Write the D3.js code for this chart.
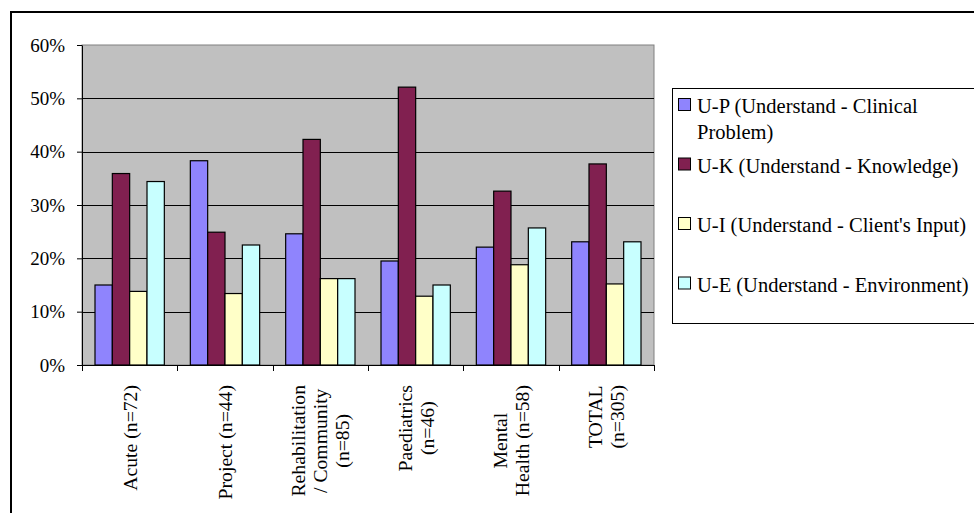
<!DOCTYPE html>
<html>
<head>
<meta charset="utf-8">
<script src="https://cdn.jsdelivr.net/npm/d3@7"></script>
<style>
  html, body { margin: 0; padding: 0; background: #fff; }
  svg { display: block; }
  text { font-family: "Times New Roman", "Liberation Serif", serif; fill: #000; }
</style>
</head>
<body>
<svg width="974" height="513"></svg>
<script>
const categories = [
  ["Acute (n=72)"],
  ["Project (n=44)"],
  ["Rehabilitation", "/ Community", "(n=85)"],
  ["Paediatrics", "(n=46)"],
  ["Mental", "Health (n=58)"],
  ["TOTAL", "(n=305)"]
];
const seriesNames = [
  "U-P (Understand - Clinical Problem)",
  "U-K (Understand - Knowledge)",
  "U-I (Understand - Client's Input)",
  "U-E (Understand - Environment)"
];
const upValues = [15.0, 38.3, 24.6, 19.5, 22.1, 23.1];
const ukValues = [35.9, 24.9, 42.3, 52.1, 32.6, 37.7];
const uiValues = [13.8, 13.4, 16.2, 12.9, 18.8, 15.2];
const ueValues = [34.4, 22.5, 16.2, 15.0, 25.7, 23.1];
const yTicks = [0, 10, 20, 30, 40, 50, 60];
const colors = ["#8f84fd", "#812050", "#ffffc8", "#c8ffff"];

const series = [upValues, ukValues, uiValues, ueValues];

const svg = d3.select("svg");

// outer chart border (runs off the right/bottom of the window)
svg.append("rect")
  .attr("x", 11).attr("y", 12)
  .attr("width", 990).attr("height", 540)
  .attr("fill", "none").attr("stroke", "#000").attr("stroke-width", 2);

const plot = { left: 82, top: 45, right: 654, bottom: 365 };

const x = d3.scaleBand()
  .domain(d3.range(categories.length))
  .range([plot.left, plot.right])
  .paddingInner(1.5 / 5.5)
  .paddingOuter(0.75 / 5.5);

const x1 = d3.scaleBand()
  .domain(d3.range(series.length))
  .range([0, x.bandwidth()]);

const y = d3.scaleLinear().domain([0, 60]).range([plot.bottom, plot.top]);

// plot background
svg.append("rect")
  .attr("x", plot.left).attr("y", plot.top)
  .attr("width", plot.right - plot.left).attr("height", plot.bottom - plot.top)
  .attr("fill", "#c0c0c0").attr("stroke", "#808080");

// gridlines
svg.append("g")
  .selectAll("line")
  .data(yTicks.filter(d => d > 0 && d < 60))
  .join("line")
  .attr("x1", plot.left).attr("x2", plot.right)
  .attr("y1", d => Math.round(y(d)) + 0.5).attr("y2", d => Math.round(y(d)) + 0.5)
  .attr("stroke", "#000");

// bars
const group = svg.append("g")
  .selectAll("g")
  .data(categories.map((c, i) => i))
  .join("g")
  .attr("transform", i => `translate(${x(i)},0)`);

group.selectAll("rect")
  .data(i => series.map((s, k) => ({ k, v: s[i] })))
  .join("rect")
  .attr("x", d => x1(d.k))
  .attr("y", d => y(d.v))
  .attr("width", x1.bandwidth())
  .attr("height", d => y(0) - y(d.v))
  .attr("fill", d => colors[d.k])
  .attr("stroke", "#000")
  .attr("stroke-width", 1.2);

// y axis
const yAxis = svg.append("g")
  .attr("transform", `translate(${plot.left},0)`)
  .call(d3.axisLeft(y).tickValues(yTicks).tickFormat(d => d + "%").tickSize(5).tickSizeOuter(0).tickPadding(12));
yAxis.select(".domain").attr("stroke", "#000");
yAxis.selectAll(".tick line").attr("stroke", "#000");
yAxis.selectAll("text").attr("font-size", 19).style("font-family", '"Times New Roman", "Liberation Serif", serif');

// x axis line and category boundary ticks
svg.append("line")
  .attr("x1", plot.left).attr("x2", plot.right)
  .attr("y1", plot.bottom + 0.5).attr("y2", plot.bottom + 0.5)
  .attr("stroke", "#000");
svg.append("g")
  .selectAll("line")
  .data(d3.range(categories.length + 1))
  .join("line")
  .attr("x1", i => Math.round(plot.left + i * x.step()) + 0.5)
  .attr("x2", i => Math.round(plot.left + i * x.step()) + 0.5)
  .attr("y1", plot.bottom).attr("y2", plot.bottom + 6)
  .attr("stroke", "#000");

// rotated category labels
const labelTop = 385;
const lineGap = 22;
const labels = svg.append("g")
  .selectAll("g")
  .data(categories.map((lines, i) => ({ lines, i })))
  .join("g");

labels.each(function(d) {
  const g = d3.select(this);
  const cx = x(d.i) + x.bandwidth() / 2;
  const ts = g.selectAll("text")
    .data(d.lines)
    .join("text")
    .attr("font-size", 19.7)
    .attr("text-anchor", "middle")
    .attr("dy", "0.35em")
    .text(t => t);
  const maxLen = d3.max(ts.nodes(), n => n.getComputedTextLength());
  const cy = labelTop + maxLen / 2;
  ts.attr("transform", (t, j) => `translate(${cx + (j - (d.lines.length - 1) / 2) * lineGap},${cy}) rotate(-90)`);
});

// legend
const legend = { left: 672, top: 88, bottom: 323 };
svg.append("rect")
  .attr("x", legend.left + 0.5).attr("y", legend.top + 0.5)
  .attr("width", 340).attr("height", legend.bottom - legend.top)
  .attr("fill", "#fff").attr("stroke", "#000");

const legendFont = 20.5;
const textX = 697;
const wrapWidth = 278;
const entryStep = 59.5;
const firstBase = 113;

const measure = svg.append("text").attr("font-size", legendFont).attr("visibility", "hidden");
function wrap(str) {
  const words = str.split(" ");
  const lines = [];
  let cur = "";
  words.forEach(w => {
    const test = cur ? cur + " " + w : w;
    measure.text(test);
    if (cur && measure.node().getComputedTextLength() > wrapWidth) {
      lines.push(cur);
      cur = w;
    } else {
      cur = test;
    }
  });
  lines.push(cur);
  return lines;
}

const item = svg.append("g")
  .selectAll("g")
  .data(seriesNames.map((name, k) => ({ name, k })))
  .join("g")
  .attr("transform", d => `translate(0,${firstBase + d.k * entryStep})`);

item.append("rect")
  .attr("x", 678.5).attr("y", -14.5)
  .attr("width", 12).attr("height", 12)
  .attr("fill", d => colors[d.k])
  .attr("stroke", "#000");

item.append("text")
  .attr("font-size", legendFont)
  .selectAll("tspan")
  .data(d => wrap(d.name))
  .join("tspan")
  .attr("x", textX)
  .attr("y", (t, j) => j * 26)
  .text(t => t);

measure.remove();
</script>
</body>
</html>
